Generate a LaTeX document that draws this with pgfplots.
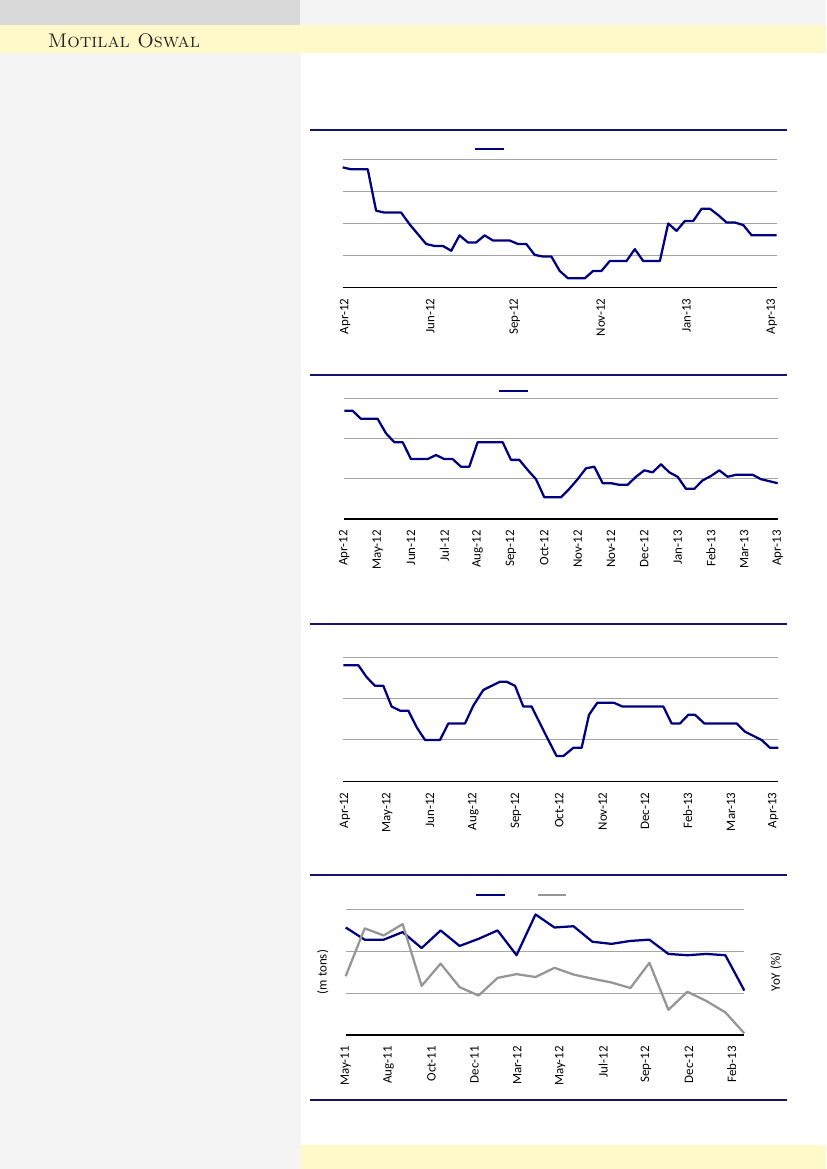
\documentclass[border=0pt]{standalone}
\usepackage{fontspec}
\newfontfamily\cfont{Carlito}
\usepackage{pgfplots}
\pgfplotsset{compat=1.18}
\definecolor{navyline}{RGB}{0,0,128}
\definecolor{rulec}{RGB}{20,20,110}
\definecolor{gridc}{RGB}{165,165,165}
\definecolor{grayline}{RGB}{150,150,150}
\definecolor{hdrgray}{RGB}{217,217,217}
\definecolor{panel}{RGB}{244,244,244}
\definecolor{yell}{RGB}{255,248,200}
\pgfplotsset{
  mochart/.style={
    scale only axis,
    anchor=south west,
    axis x line*=bottom,
    axis y line*=left,
    y axis line style={draw=none},
    x axis line style={black, line width=0.9pt},
    tick style={draw=none},
    major tick length=0pt,
    ymin=0,
    ymajorgrids,
    major grid style={gridc, line width=0.75pt},
    yticklabels={},
    xticklabel style={yshift=-8.25pt, rotate=90, anchor=east, inner sep=0pt, font=\cfont\fontsize{9.7}{11}\selectfont},
    label style={font=\cfont\fontsize{9.7}{11}\selectfont},
    clip=false,
    legend style={draw=none, fill=none, inner sep=0pt, outer sep=0pt, nodes={inner sep=0pt, outer sep=0pt}, column sep=0pt, anchor=west},
    legend image code/.code={\draw[##1, line width=1.7pt] (0pt,0pt) -- (21.5pt,0pt);},
  },
  dl/.style={navyline, line width=1.7pt, line join=round, mark=none},
  gl/.style={grayline, line width=1.7pt, line join=round, mark=none},
}
\begin{document}
\begin{tikzpicture}
\begin{scope}[x=0.75pt,y=-0.75pt]
  \useasboundingbox (0,0) rectangle (826,1169);
  \fill[white] (0,0) rectangle (826,1169);
  \fill[hdrgray] (0,0) rectangle (300,25);
  \fill[panel] (300,0) rectangle (826,25);
  \fill[yell] (0,25) rectangle (826,53);
  \fill[panel] (0,53) rectangle (301,1169);
  \fill[yell] (301,1145) rectangle (826,1169);
  \node[anchor=base west, inner sep=0pt, text=black!85] at (47.5,47.5) {\fontsize{14.8}{16}\selectfont\textsc{Motilal Oswal}};
  \draw[rulec, line width=1.1pt] (310,130) -- (787,130);
  \draw[rulec, line width=1.1pt] (310,375) -- (787,375);
  \draw[rulec, line width=1.1pt] (310,624) -- (787,624);
  \draw[rulec, line width=1.1pt] (310,875) -- (787,875);
  \draw[rulec, line width=1.1pt] (310,1100) -- (787,1100);
\end{scope}

% Chart 1
\begin{axis}[mochart,
  at={(257.03pt,-215.48pt)}, width=325.5pt, height=96.2pt,
  xmin=0, xmax=52, ymax=4, ytick={1,2,3,4},
  xtick={0.3,10.5,20.6,30.9,41.2,51.4},
  xticklabels={Apr-12,Jun-12,Sep-12,Nov-12,Jan-13,Apr-13},
  legend style={at={(axis description cs:0.3025,1.080)}},
]
\addplot[dl] coordinates {
(0,3.74)(1,3.68)(2,3.68)(3,3.68)(4,2.39)(5,2.33)(6,2.33)(7,2.33)(8,1.97)(9,1.66)
(10,1.35)(11,1.29)(12,1.29)(13,1.14)(14,1.62)(15,1.40)(16,1.40)(17,1.62)(18,1.46)(19,1.46)
(20,1.46)(21,1.35)(22,1.35)(23,1.01)(24,0.96)(25,0.96)(26,0.51)(27,0.28)(28,0.28)(29,0.28)
(30,0.51)(31,0.51)(32,0.82)(33,0.82)(34,0.82)(35,1.19)(36,0.82)(37,0.82)(38,0.82)(39,1.99)
(40,1.76)(41,2.07)(42,2.07)(43,2.45)(44,2.45)(45,2.25)(46,2.02)(47,2.02)(48,1.94)(49,1.62)
(50,1.62)(51,1.62)(52,1.62)};
\addlegendentry{}
\end{axis}

% Chart 2
\begin{axis}[mochart,
  at={(258.23pt,-389.25pt)}, width=325pt, height=90.5pt,
  xmin=0, xmax=52, ymax=3, ytick={1,2,3},
  xtick={0,4,...,52},
  xticklabels={Apr-12,May-12,Jun-12,Jul-12,Aug-12,Sep-12,Oct-12,Nov-12,Nov-12,Dec-12,Jan-13,Feb-13,Mar-13,Apr-13},
  legend style={at={(axis description cs:0.3553,1.063)}},
]
\addplot[dl] coordinates {
(0,2.69)(1,2.69)(2,2.49)(3,2.49)(4,2.49)(5,2.13)(6,1.91)(7,1.91)(8,1.49)(9,1.49)
(10,1.49)(11,1.59)(12,1.49)(13,1.49)(14,1.30)(15,1.30)(16,1.91)(17,1.91)(18,1.91)(19,1.91)
(20,1.47)(21,1.47)(22,1.22)(23,0.99)(24,0.54)(25,0.54)(26,0.54)(27,0.75)(28,0.99)(29,1.26)
(30,1.30)(31,0.89)(32,0.89)(33,0.85)(34,0.85)(35,1.05)(36,1.21)(37,1.16)(38,1.36)(39,1.16)
(40,1.05)(41,0.75)(42,0.75)(43,0.96)(44,1.07)(45,1.21)(46,1.05)(47,1.10)(48,1.10)(49,1.10)
(50,0.99)(51,0.94)(52,0.89)};
\addlegendentry{}
\end{axis}

% Chart 3
\begin{axis}[mochart,
  at={(257.48pt,-585.98pt)}, width=326.25pt, height=93pt,
  xmin=0, xmax=435, ymax=3, ytick={1,2,3},
  xtick={1.7,44,86.7,130,172.7,216,259.4,301.7,344.4,387.7,430},
  xticklabels={Apr-12,May-12,Jun-12,Aug-12,Sep-12,Oct-12,Nov-12,Dec-12,Feb-13,Mar-13,Apr-13},
]
\addplot[dl] coordinates {
(0,2.81)(15,2.81)(23.3,2.52)(31.7,2.31)(40,2.31)(48.3,1.81)(56.7,1.71)(65,1.71)(73.3,1.31)(81.7,1.00)
(96.7,1.00)(105,1.40)(113.3,1.40)(121.7,1.40)(130,1.83)(140,2.21)(148.3,2.31)(156.7,2.41)(163.3,2.41)(171.7,2.31)
(180,1.81)(188.3,1.81)(196.7,1.40)(205,1.00)(213.3,0.61)(220,0.61)(230,0.81)(238.3,0.81)(245.7,1.61)(254,1.90)
(270.7,1.90)(279,1.81)(320,1.81)(328.3,1.40)(336.7,1.40)(345,1.61)(351.7,1.61)(361,1.40)(393.3,1.40)(401.7,1.20)
(410,1.10)(418.3,1.00)(426.7,0.81)(435,0.81)};
\end{axis}

% Chart 4
\begin{axis}[mochart,
  at={(259.28pt,-776.25pt)}, width=298.95pt, height=94.5pt,
  xmin=0, xmax=21, ymax=3, ytick={1,2,3},
  xtick={0,2.26,4.52,6.78,9.04,11.3,13.56,15.82,18.08,20.34},
  xticklabels={May-11,Aug-11,Oct-11,Dec-11,Mar-12,May-12,Jul-12,Sep-12,Dec-12,Feb-13},
  ylabel={(m tons)},
  ylabel style={at={(axis description cs:-0.0577,0.5)}, anchor=center},
  legend columns=2,
  legend style={at={(axis description cs:0.3244,1.111)}},
]
\addplot[dl] coordinates {
(0,2.56)(1,2.27)(2,2.27)(3,2.45)(4,2.07)(5,2.49)(6,2.12)(7,2.29)(8,2.49)(9,1.90)
(10,2.87)(11,2.56)(12,2.59)(13,2.22)(14,2.17)(15,2.24)(16,2.27)(17,1.93)(18,1.90)(19,1.93)
(20,1.90)(21,1.06)};
\addlegendentry{\hspace*{23pt}}
\addlegendimage{gl}
\addlegendentry{}
\end{axis}
\begin{axis}[
  scale only axis, anchor=south west,
  at={(259.28pt,-776.25pt)}, width=298.95pt, height=94.5pt,
  xmin=0, xmax=21, ymin=0, ymax=3,
  hide x axis,
  axis y line*=right,
  y axis line style={draw=none},
  ytick=\empty,
  clip=false,
  ylabel={YoY (\%)},
  label style={font=\cfont\fontsize{9.7}{11}\selectfont},
  ylabel style={at={(axis description cs:1.0795,0.5)}, anchor=center, rotate=0},
]
\addplot[gl] coordinates {
(0,1.40)(1,2.54)(2,2.37)(3,2.64)(4,1.17)(5,1.70)(6,1.14)(7,0.94)(8,1.36)(9,1.45)
(10,1.38)(11,1.60)(12,1.44)(13,1.34)(14,1.25)(15,1.12)(16,1.72)(17,0.60)(18,1.03)(19,0.81)
(20,0.54)(21,0.04)};
\end{axis}
\end{tikzpicture}
\end{document}
